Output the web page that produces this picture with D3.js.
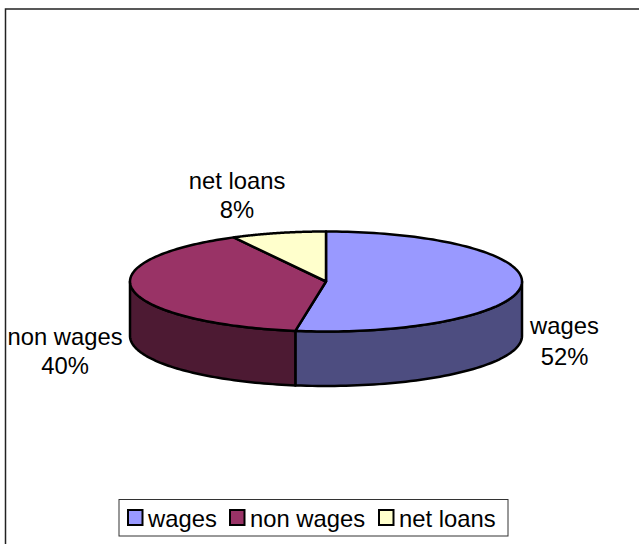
<!DOCTYPE html>
<html><head><meta charset="utf-8">
<script src="https://cdn.jsdelivr.net/npm/d3@7/dist/d3.min.js"></script>
<style>html,body{margin:0;padding:0;background:#fff}svg{display:block}text{font-family:"Liberation Sans",Arial,sans-serif;font-size:23.8px;fill:#000}</style>
</head><body><svg id="c" width="639" height="544"></svg>
<script>
const categories=["wages","non wages","net loans"];
const values=[52.5,39.7,7.8];
const tops=["#9999FF","#993366","#FFFFCC"];
const sides=["#4D4D80","#4D1A33","#808066"];
const pctLabels=["52%","40%","8%"];

const W=639,H=544,cx=326,cy=281.5,rx=196,ry=50,depth=54.5;
const svg=d3.select("#c");
const frame=d3.path();frame.moveTo(5.5,H);frame.lineTo(5.5,9);frame.lineTo(W,9);
svg.append("path").attr("d",frame.toString()).attr("fill","none").attr("stroke","#222").attr("stroke-width",1.5);

const arcs=d3.pie().sort(null).value(d=>d)(values);
const sx=d3.scaleLinear().domain([-1,1]).range([cx-rx,cx+rx]);
const sy=d3.scaleLinear().domain([-1,1]).range([cy-ry,cy+ry]);
const px=a=>sx(Math.sin(a)),py=a=>sy(-Math.cos(a));

arcs.forEach((d,i)=>{
  const a0=Math.max(d.startAngle,Math.PI/2),a1=Math.min(d.endAngle,3*Math.PI/2);
  if(a1<=a0) return;
  const n=60,as=d3.range(n+1).map(k=>a0+(a1-a0)*k/n);
  const pts=as.map(a=>[px(a),py(a)]).concat(as.slice().reverse().map(a=>[px(a),py(a)+depth]));
  svg.append("path").attr("d",d3.line()(pts)+"Z").attr("fill",sides[i])
     .attr("stroke","#000").attr("stroke-width",2.5).attr("stroke-linejoin","round");
});
const topG=svg.append("g");
arcs.forEach((d,i)=>{
  const n=120,as=d3.range(n+1).map(k=>d.startAngle+(d.endAngle-d.startAngle)*k/n);
  const pts=[[cx,cy]].concat(as.map(a=>[px(a),py(a)]));
  topG.append("path").attr("d",d3.line()(pts)+"Z").attr("fill",tops[i])
     .attr("stroke","#000").attr("stroke-width",2.5).attr("stroke-linejoin","round");
});

const labelPos=[[564.5,[326,357]],[65,[337,366]],[237,[181,210]]];
categories.forEach((c,i)=>{
  const [x,ys]=labelPos[i];
  svg.append("text").attr("x",x).attr("y",ys[0]+8).attr("text-anchor","middle").text(c);
  svg.append("text").attr("x",x).attr("y",ys[1]+8).attr("text-anchor","middle").text(pctLabels[i]);
});

svg.append("rect").attr("x",119).attr("y",499.5).attr("width",389).attr("height",36.5)
   .attr("fill","#fff").attr("stroke","#333").attr("stroke-width",1);
const swatchX=[128,230,379],textX=[148,250,399];
categories.forEach((c,i)=>{
  svg.append("rect").attr("x",swatchX[i]).attr("y",510).attr("width",14.5).attr("height",15)
     .attr("fill",tops[i]).attr("stroke","#000").attr("stroke-width",2);
  svg.append("text").attr("x",textX[i]).attr("y",527).text(c);
});
</script></body></html>
